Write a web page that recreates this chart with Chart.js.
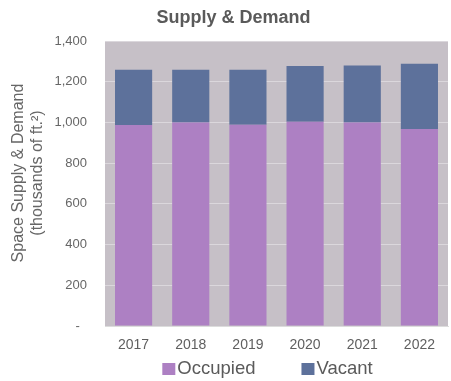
<!DOCTYPE html>
<html>
<head>
<meta charset="utf-8">
<title>Supply & Demand</title>
<script src="https://cdn.jsdelivr.net/npm/chart.js@4"></script>
<style>
  html, body { margin: 0; padding: 0; background: #ffffff; }
  #wrap { width: 451px; height: 381px; position: relative; }
</style>
</head>
<body>
<div id="wrap"><canvas id="chart"></canvas></div>
<script>
// Space supply & demand by year (thousands of sq ft)
const years = ['2017', '2018', '2019', '2020', '2021', '2022'];
const occupied = [987, 1000, 988, 1003, 1000, 968];
const vacant = [272, 259, 271, 274, 280, 320];
const yTicks = [0, 200, 400, 600, 800, 1000, 1200, 1400];
const yTitleLines = ['Space Supply & Demand', '(thousands of ft.\u00B2)'];

const FONT = "'Liberation Sans', Arial, Helvetica, sans-serif";
const TEXT = '#5a5a5a';

// Grey plot panel behind the grid and bars
const panelBg = {
  id: 'panelBg',
  beforeDraw(chart) {
    const { ctx, chartArea: a } = chart;
    ctx.save();
    ctx.fillStyle = '#c6c0c7';
    ctx.fillRect(a.left, a.top, a.right - a.left, a.bottom - a.top);
    ctx.restore();
  }
};

// Two-line rotated axis title and a compact legend under the labels
const extras = {
  id: 'extras',
  afterDraw(chart) {
    const { ctx, chartArea: a } = chart;
    ctx.save();
    ctx.fillStyle = '#666666';
    ctx.font = '16px ' + FONT;
    ctx.textAlign = 'center';
    ctx.textBaseline = 'middle';
    const cy = 173;
    [19, 38].forEach((x, i) => {
      ctx.save();
      ctx.translate(x, cy);
      ctx.rotate(-Math.PI / 2);
      ctx.fillText(yTitleLines[i], 0, 0);
      ctx.restore();
    });

    ctx.font = '18.5px ' + FONT;
    ctx.textAlign = 'left';
    const items = chart.data.datasets.map(ds => ({
      label: ds.label, color: ds.backgroundColor, w: ctx.measureText(ds.label).width
    }));
    const box = 13, gap = 2, spacing = 46;
    const total = items.reduce((s, it) => s + box + gap + it.w, 0) + spacing * (items.length - 1);
    let x = (a.left + a.right) / 2 - 9 - total / 2;
    const y = 369;
    items.forEach(it => {
      ctx.fillStyle = it.color;
      ctx.fillRect(x, y - 6, box, 12);
      ctx.fillStyle = TEXT;
      ctx.fillText(it.label, x + box + gap, y);
      x += box + gap + it.w + spacing;
    });
    ctx.restore();
  }
};

new Chart(document.getElementById('chart'), {
  type: 'bar',
  data: {
    labels: years,
    datasets: [
      { label: 'Occupied', data: occupied, backgroundColor: '#ad80c3', borderWidth: 0 },
      { label: 'Vacant', data: vacant, backgroundColor: '#5d719b', borderWidth: 0 }
    ]
  },
  options: {
    responsive: true,
    maintainAspectRatio: false,
    animation: false,
    layout: { padding: { left: 19, right: 3, top: 0, bottom: 0 } },
    datasets: { bar: { barPercentage: 0.65, categoryPercentage: 1.0 } },
    plugins: {
      legend: { display: false },
      tooltip: { enabled: false },
      title: {
        display: true,
        text: 'Supply & Demand',
        color: TEXT,
        font: { family: FONT, size: 18, weight: 'bold' },
        padding: { top: 7.5, bottom: 11.9 }
      }
    },
    scales: {
      x: {
        stacked: true,
        afterFit(scale) { scale.height = 55; },
        grid: { display: false, drawTicks: false },
        border: { display: true, color: '#dcdcdc', width: 1 },
        ticks: { color: '#5f5f5f', font: { family: FONT, size: 14 }, padding: 11 }
      },
      y: {
        stacked: true,
        min: 0,
        max: 1400,
        afterFit(scale) { scale.width = 86; },
        afterBuildTicks(scale) { scale.ticks = yTicks.map(v => ({ value: v })); },
        grid: { color: '#dbd7dc', lineWidth: 1, drawTicks: false },
        border: { display: false },
        ticks: {
          color: '#666666',
          font: { family: FONT, size: 13 },
          padding: 18,
          callback: v => v === 0 ? '-  ' : Number(v).toLocaleString('en-US')
        }
      }
    }
  },
  plugins: [panelBg, extras]
});
</script>
</body>
</html>
